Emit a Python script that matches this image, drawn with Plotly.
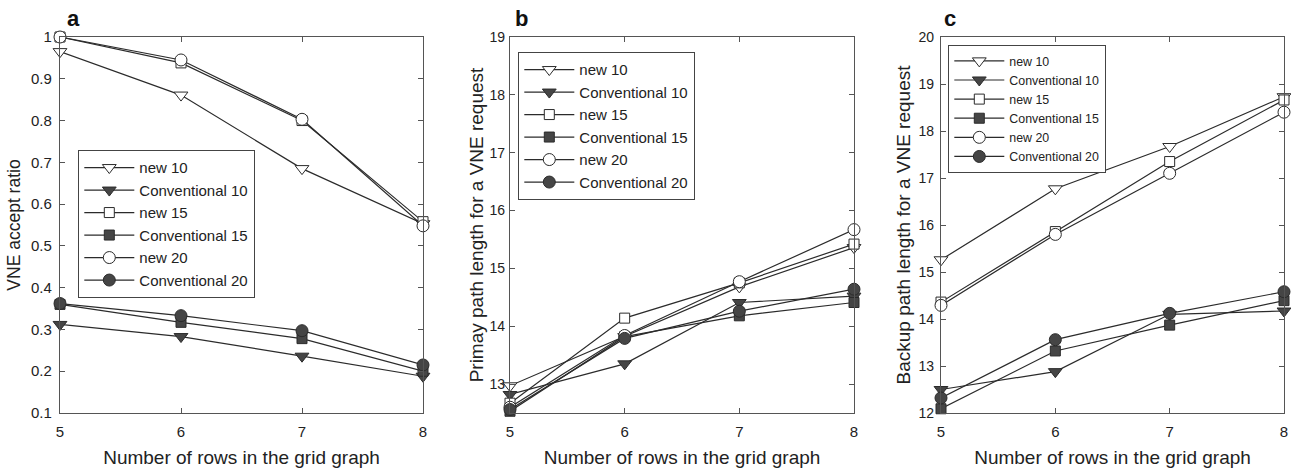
import plotly.graph_objects as go

x_rows = [5, 6, 7, 8]
series_names = ["new 10", "Conventional 10", "new 15", "Conventional 15", "new 20", "Conventional 20"]

# Panel a: VNE accept ratio
a_new10 = [0.965, 0.861, 0.685, 0.553]
a_conv10 = [0.312, 0.283, 0.236, 0.188]
a_new15 = [1.0, 0.938, 0.800, 0.558]
a_conv15 = [0.360, 0.317, 0.278, 0.200]
a_new20 = [1.0, 0.945, 0.803, 0.548]
a_conv20 = [0.362, 0.333, 0.297, 0.215]

# Panel b: primary path length
b_new10 = [12.97, 13.82, 14.68, 15.36]
b_conv10 = [12.82, 13.35, 14.41, 14.52]
b_new15 = [12.67, 14.14, 14.75, 15.42]
b_conv15 = [12.53, 13.82, 14.18, 14.41]
b_new20 = [12.60, 13.84, 14.77, 15.67]
b_conv20 = [12.56, 13.79, 14.26, 14.64]

# Panel c: backup path length
c_new10 = [15.26, 16.77, 17.67, 18.73]
c_conv10 = [12.50, 12.88, 14.10, 14.17]
c_new15 = [14.36, 15.86, 17.35, 18.66]
c_conv15 = [12.09, 13.32, 13.87, 14.39]
c_new20 = [14.29, 15.80, 17.10, 18.40]
c_conv20 = [12.32, 13.56, 14.12, 14.58]

x_title = "Number of rows in the grid graph"
y_titles = ["VNE accept ratio", "Primay path length for a VNE request", "Backup path length for a VNE request"]
panel_letters = ["a", "b", "c"]

LINE = "#2b2b2b"
FILL = "#454545"
styles = [
    dict(symbol="triangle-down", size=12, color="white"),
    dict(symbol="triangle-down", size=12, color=FILL),
    dict(symbol="square", size=10, color="white"),
    dict(symbol="square", size=10, color=FILL),
    dict(symbol="circle", size=12, color="white"),
    dict(symbol="circle", size=12, color=FILL),
]

panels = [
    [a_new10, a_conv10, a_new15, a_conv15, a_new20, a_conv20],
    [b_new10, b_conv10, b_new15, b_conv15, b_new20, b_conv20],
    [c_new10, c_conv10, c_new15, c_conv15, c_new20, c_conv20],
]

W, H = 1291, 469
xdoms = [(60, 423), (510, 854), (941, 1284)]
ytop, ybot = 37, 413
ydom = [(H - ybot) / H, (H - ytop) / H]
yranges = [[0.1, 1.0], [12.5, 19], [12, 20]]
ytickvals = [[round(0.1 * i, 1) for i in range(1, 11)], list(range(13, 20)), list(range(12, 21))]
ytickfont = [15, 14, 14]
ytitlefont = [17.5, 19, 19]
ytitlestand = [5, 0, 2]
ylabstand = [4, 1, 3]
legend_pos = [(78, 150), (518, 52), (948, 45)]
legend_font = [15, 15, 12.4]

fig = go.Figure()
for p in range(3):
    xa = "x" if p == 0 else f"x{p+1}"
    ya = "y" if p == 0 else f"y{p+1}"
    lg = "legend" if p == 0 else f"legend{p+1}"
    for i, vals in enumerate(panels[p]):
        st = styles[i]
        fig.add_trace(go.Scatter(
            x=x_rows, y=vals, name=series_names[i], mode="lines+markers",
            line=dict(color=LINE, width=1.2),
            marker=dict(symbol=st["symbol"], size=st["size"], color=st["color"],
                        line=dict(color=LINE, width=1)),
            xaxis=xa, yaxis=ya, legend=lg, cliponaxis=False,
        ))

axis_common = dict(showline=True, linecolor="#555555", linewidth=1.3, mirror="ticks",
                   ticks="inside", ticklen=5, tickcolor="#555555", showgrid=False,
                   zeroline=False, automargin=False)
layout = dict(width=W, height=H, margin=dict(l=0, r=0, t=0, b=0),
              paper_bgcolor="white", plot_bgcolor="white",
              font=dict(family="Liberation Sans, Arial, sans-serif", color="#222222"))
for p in range(3):
    sfx = "" if p == 0 else str(p + 1)
    layout[f"xaxis{sfx}"] = dict(domain=[xdoms[p][0] / W, xdoms[p][1] / W], range=[5, 8],
                                 tickvals=x_rows, anchor=f"y{sfx}",
                                 tickfont=dict(size=15), ticklabelstandoff=5,
                                 title=dict(text=x_title, font=dict(size=19), standoff=11),
                                 **axis_common)
    layout[f"yaxis{sfx}"] = dict(domain=ydom, range=yranges[p], tickvals=ytickvals[p],
                                 anchor=f"x{sfx}", tickfont=dict(size=ytickfont[p]),
                                 ticklabelstandoff=ylabstand[p],
                                 title=dict(text=y_titles[p], font=dict(size=ytitlefont[p]),
                                            standoff=ytitlestand[p]),
                                 **axis_common)
    lx, ly = legend_pos[p]
    layout["legend" if p == 0 else f"legend{p+1}"] = dict(
        x=lx / W, y=1 - ly / H, xanchor="left", yanchor="top",
        bgcolor="white", bordercolor="#444444", borderwidth=1.3,
        font=dict(size=legend_font[p], color="#222222"), itemwidth=50, tracegroupgap=0)

fig.update_layout(**layout)

letter_x = [65, 513, 942]
for p in range(3):
    fig.add_annotation(text=f"<b>{panel_letters[p]}</b>", x=letter_x[p] / W, y=1.0,
                       xref="paper", yref="paper", xanchor="left", yanchor="top", yshift=-4,
                       showarrow=False, font=dict(size=22, color="#111111"))

fig.write_html("out.html")
